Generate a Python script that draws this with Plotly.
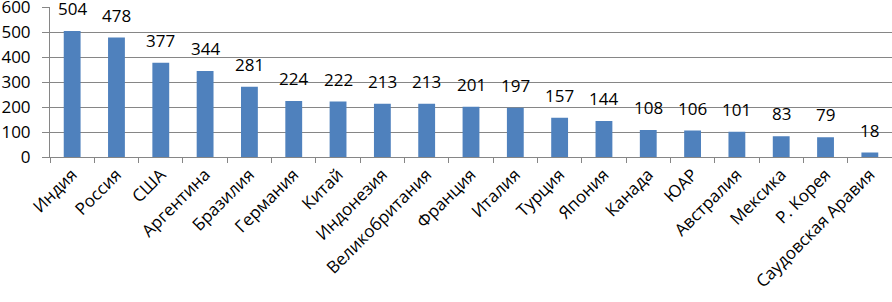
import plotly.graph_objects as go

countries = ["Индия", "Россия", "США", "Аргентина", "Бразилия", "Германия", "Китай",
             "Индонезия", "Великобритания", "Франция", "Италия", "Турция", "Япония",
             "Канада", "ЮАР", "Австралия", "Мексика", "Р. Корея", "Саудовская Аравия"]
values = [504, 478, 377, 344, 281, 224, 222, 213, 213, 201, 197, 157, 144, 108, 106, 101, 83, 79, 18]
y_ticks = [0, 100, 200, 300, 400, 500, 600]

FONT = "Open Sans"
fig = go.Figure(go.Bar(x=countries, y=values, marker=dict(color="#4F81BD", line=dict(width=0)),
                       hoverinfo="skip"))

for c, v in zip(countries, values):
    fig.add_annotation(x=c, y=v, text=str(v), showarrow=False, yanchor="bottom", yshift=9,
                       font=dict(family=FONT, size=17, color="#000000"))

fig.update_layout(
    width=892, height=302,
    margin=dict(l=50, r=0, t=7, b=145),
    paper_bgcolor="white", plot_bgcolor="white",
    bargap=0.62, showlegend=False,
    font=dict(family=FONT, color="#000000"),
)
fig.update_xaxes(
    type="category", tickangle=-45, tickfont=dict(family=FONT, size=17),
    showline=True, linecolor="#868686", linewidth=1,
    ticks="outside", tickson="boundaries", ticklen=5, tickcolor="#868686",
    showgrid=False, automargin=False, ticklabeloverflow="allow",
)
fig.update_yaxes(
    range=[0, 600], tickvals=y_ticks, tickfont=dict(family=FONT, size=17),
    showline=True, linecolor="#868686", linewidth=1,
    ticks="outside", ticklen=7, tickcolor="#868686", ticklabelstandoff=8,
    showgrid=True, gridcolor="#868686", gridwidth=1, zeroline=False,
    automargin=False, ticklabeloverflow="allow",
)
fig.write_html("out.html", config={"displayModeBar": False},
               post_script="document.body.style.margin='0';document.body.style.overflow='hidden';")
